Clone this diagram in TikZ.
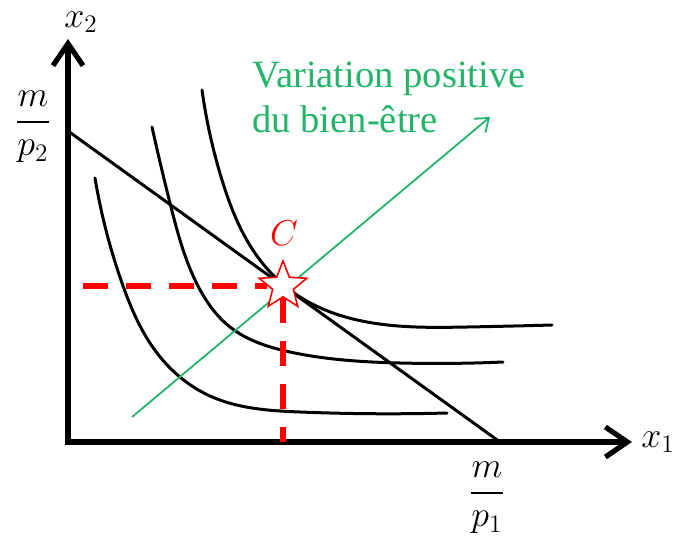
\RequirePackage{fix-cm}
\documentclass[tikz,border=0pt]{standalone}
\usepackage{amsmath}
\usepackage{fontspec}
\setmainfont{Liberation Serif}
\newfontfamily\labelfont{Liberation Serif}
\usetikzlibrary{arrows.meta,shapes.geometric,hobby}
\definecolor{welfare}{HTML}{23B46A}
\definecolor{optimum}{HTML}{FF0000}

\begin{document}
\begin{tikzpicture}[x=0.5pt,y=-0.5pt,
    axis/.style={line width=2.6pt, line join=miter, {Straight Barb[length=11pt,width=15pt]}-{Straight Barb[length=11pt,width=15pt]}},
    curve/.style={line width=1.5pt, line cap=round},
    lab/.style={font=\fontsize{18}{22}\selectfont, inner sep=0pt},
    guide/.style={optimum, line width=3.4pt, dash pattern=on 12.5pt off 9pt}]
    \useasboundingbox (0,0) rectangle (681,542);
    %the points
    \coordinate (O) at (68,442);
    \coordinate (xend) at (632,442);
    \coordinate (yend) at (68,39);
    \coordinate (A) at (68,131);
    \coordinate (B) at (500,442);
    \coordinate (hstart) at (83,286);
    \coordinate (vend) at (283,442);
    \coordinate (gstart) at (132,417);
    \coordinate (gend) at (490,117);
    %the axes
    \draw[axis] (yend) -- (O) -- (xend);
    %legends
    \node[lab] (xone) at (658,442) {$x_1$};
    \node[lab] (xtwo) at (81,22) {$x_2$};
    \node[lab] (mptwo) at (33,127) {$\dfrac{m}{p_2}$};
    \node[lab] (mpone) at (487,498) {$\dfrac{m}{p_1}$};
    %the budget line
    \draw[curve] (A) -- (B);
    %the indifference curves
    \draw[curve, use Hobby shortcut] (95,178) .. (122,283) .. (157,353) .. (210,396) .. (300,412) .. (447,413);
    \draw[curve, use Hobby shortcut] (152,127) .. (171,207) .. (198,286) .. (230,327) .. (290,352) .. (400,363) .. (503,362);
    \draw[curve, use Hobby shortcut] (202,90) .. (222,180) .. (257,256) .. (300,297) .. (367,322) .. (467,327) .. (552,325);
    %the welfare direction
    \draw[welfare, line width=0.9pt, -{Straight Barb[length=6pt,width=9pt]}] (gstart) -- (gend);
    \node[welfare, anchor=north west, align=left, inner sep=0pt, font=\labelfont\fontsize{19.3}{22.5}\selectfont] (gain) at (252,62) {Variation positive\\du bien-être};
    %the optimum
    \node[star, star points=5, star point ratio=2.3, minimum size=25pt, inner sep=0pt, draw=optimum, fill=white, line width=0.8pt] (C) at (283,286) {};
    \draw[guide] (hstart) -- (C.west);
    \draw[guide] (C.south) -- (vend);
    \node[lab, optimum] (Clab) at (284,233) {$C$};
\end{tikzpicture}
\end{document}
